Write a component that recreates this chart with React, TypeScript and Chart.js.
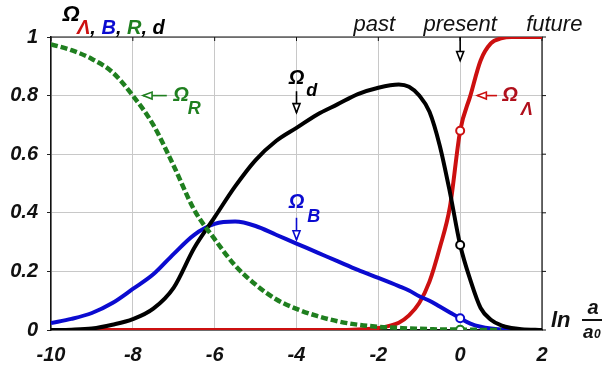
import React, { useEffect, useRef } from "react";
import { Chart, registerables } from "chart.js";

Chart.register(...registerables);

// ln(a/a0) sample positions
const xs = [-10, -9.5, -9, -8.5, -8, -7.5, -7, -6.5, -6, -5.5, -5, -4.5, -4, -3.5, -3, -2.5, -2, -1.5, -1.25, -1, -0.75, -0.5, -0.25, 0, 0.25, 0.5, 0.75, 1, 1.25, 1.5, 2];

// Ω_R (radiation)
const omegaR = [0.975, 0.955, 0.925, 0.88, 0.8, 0.7, 0.56, 0.41, 0.31, 0.22, 0.155, 0.105, 0.072, 0.048, 0.03, 0.018, 0.011, 0.007, 0.005, 0.004, 0.003, 0.002, 0.002, 0.001, 0.001, 0.0, 0.0, 0.0, null, null, null];
// Ω_B (baryons)
const omegaB = [0.024, 0.038, 0.058, 0.092, 0.14, 0.19, 0.26, 0.325, 0.362, 0.37, 0.355, 0.325, 0.295, 0.265, 0.235, 0.205, 0.178, 0.15, 0.135, 0.115, 0.1, 0.08, 0.06, 0.04, 0.022, 0.011, 0.005, 0.002, 0.001, 0.0, null];
// Ω_d (dark matter)
const omegaD = [0.0, 0.001, 0.005, 0.018, 0.037, 0.073, 0.145, 0.28, 0.385, 0.49, 0.58, 0.645, 0.69, 0.735, 0.77, 0.805, 0.827, 0.838, 0.83, 0.8, 0.745, 0.63, 0.47, 0.29, 0.17, 0.075, 0.035, 0.016, 0.007, 0.003, 0.0];
// Ω_Λ (dark energy)
const omegaL = [0, 0, 0, 0, 0, 0, 0, 0, 0, 0, 0, 0, 0, 0, 0, 0.002, 0.007, 0.025, 0.05, 0.092, 0.165, 0.28, 0.42, 0.68, 0.8, 0.92, 0.978, 0.995, 1, 1, 1];

const xTicks = [-10, -8, -6, -4, -2, 0, 2];
const yTicks = [0, 0.2, 0.4, 0.6, 0.8, 1];
const presentX = 0;

const FONT = '"Liberation Sans", Arial, sans-serif';
const GREEN = "#1f7f1f";
const BLUE = "#0b0bd0";
const RED = "#cc1010";
const BLACK = "#000000";

function pts(arr: (number | null)[]) {
  return xs.map((x, i) => ({ x, y: arr[i] }));
}

function drawArrow(ctx: CanvasRenderingContext2D, x1: number, y1: number, x2: number, y2: number, color: string) {
  const ang = Math.atan2(y2 - y1, x2 - x1);
  const len = 9;
  const hw = 3.5;
  ctx.save();
  ctx.strokeStyle = color;
  ctx.lineWidth = 1.6;
  ctx.beginPath();
  ctx.moveTo(x1, y1);
  ctx.lineTo(x2, y2);
  ctx.stroke();
  const bx = x2 - Math.cos(ang) * len;
  const by = y2 - Math.sin(ang) * len;
  const px = -Math.sin(ang) * hw;
  const py = Math.cos(ang) * hw;
  ctx.fillStyle = "#ffffff";
  ctx.beginPath();
  ctx.moveTo(x2, y2);
  ctx.lineTo(bx + px, by + py);
  ctx.lineTo(bx - px, by - py);
  ctx.closePath();
  ctx.fill();
  ctx.stroke();
  ctx.restore();
}

function drawText(ctx: CanvasRenderingContext2D, text: string, x: number, y: number, font: string, color: string, align: CanvasTextAlign = "center") {
  ctx.save();
  ctx.font = font;
  ctx.fillStyle = color;
  ctx.textAlign = align;
  ctx.textBaseline = "middle";
  ctx.fillText(text, x, y);
  ctx.restore();
}

const annotPlugin = {
  id: "annot",
  beforeDatasetsDraw(chart: any) {
    const { ctx, chartArea: a, scales } = chart;
    ctx.save();
    ctx.strokeStyle = "#111";
    ctx.lineWidth = 1.2;
    ctx.beginPath();
    ctx.moveTo(a.left, a.top);
    ctx.lineTo(a.right, a.top);
    ctx.lineTo(a.right, a.bottom);
    ctx.stroke();
    ctx.lineWidth = 1;
    yTicks.forEach((v) => {
      const y = scales.y.getPixelForValue(v);
      ctx.beginPath();
      ctx.moveTo(a.right, y);
      ctx.lineTo(a.right + 4, y);
      ctx.stroke();
    });
    xTicks.forEach((v) => {
      const x = scales.x.getPixelForValue(v);
      ctx.beginPath();
      ctx.moveTo(x, a.top);
      ctx.lineTo(x, a.top + 4);
      ctx.stroke();
    });
    ctx.restore();
  },
  afterDatasetsDraw(chart: any) {
    const { ctx, scales } = chart;
    const X = (v: number) => scales.x.getPixelForValue(v);
    const Y = (v: number) => scales.y.getPixelForValue(v);
    const big = `italic bold 20px ${FONT}`;
    const sub = `italic bold 18px ${FONT}`;

    // Ω_R
    drawArrow(ctx, X(-7.17), Y(0.8), X(-7.75), Y(0.8), GREEN);
    drawText(ctx, "Ω", X(-6.82), Y(0.8), big, GREEN);
    drawText(ctx, "R", X(-6.5), Y(0.755), sub, GREEN);

    // Ω_d
    drawText(ctx, "Ω", X(-4), Y(0.86), big, BLACK);
    drawText(ctx, "d", X(-3.63), Y(0.817), sub, BLACK);
    drawArrow(ctx, X(-4), Y(0.815), X(-4), Y(0.742), BLACK);

    // Ω_B
    drawText(ctx, "Ω", X(-4), Y(0.435), big, BLUE);
    drawText(ctx, "B", X(-3.58), Y(0.385), sub, BLUE);
    drawArrow(ctx, X(-4), Y(0.383), X(-4), Y(0.308), BLUE);

    // Ω_Λ
    drawArrow(ctx, X(0.9), Y(0.8), X(0.42), Y(0.8), RED);
    drawText(ctx, "Ω", X(1.22), Y(0.8), big, "#b0101c");
    drawText(ctx, "Λ", X(1.63), Y(0.752), sub, "#b0101c");

    // present arrow
    drawArrow(ctx, X(presentX), Y(1.0), X(presentX), Y(0.92), BLACK);
  },
  afterDraw(chart: any) {
    const { ctx, scales } = chart;
    const X = (v: number) => scales.x.getPixelForValue(v);
    // Axis title (top-left)
    drawText(ctx, "Ω", 71, 15, `italic bold 22px ${FONT}`, BLACK);
    ctx.save();
    ctx.font = `italic bold 20px ${FONT}`;
    ctx.textBaseline = "middle";
    ctx.textAlign = "left";
    let x = 77;
    const parts: [string, string][] = [["Λ", RED], [", ", BLACK], ["B", BLUE], [", ", BLACK], ["R", GREEN], [", ", BLACK], ["d", BLACK]];
    parts.forEach(([t, c]) => {
      ctx.fillStyle = c;
      ctx.fillText(t, x, 28);
      x += ctx.measureText(t).width;
    });
    ctx.restore();

    // past / present / future
    ctx.save();
    ctx.font = `italic 22px ${FONT}`;
    ctx.fillStyle = "#111";
    ctx.textAlign = "center";
    ctx.textBaseline = "alphabetic";
    ctx.fillText("past", X(-2.1), 31);
    ctx.fillText("present", X(0), 31);
    ctx.fillText("future", X(2.3), 31);
    ctx.restore();

    // x-axis title: ln a/a0
    ctx.save();
    ctx.fillStyle = "#111";
    ctx.font = `italic bold 22px ${FONT}`;
    ctx.textBaseline = "alphabetic";
    ctx.textAlign = "left";
    ctx.fillText("ln", 551, 327);
    ctx.font = `italic bold 20px ${FONT}`;
    ctx.textAlign = "center";
    ctx.fillText("a", 593, 314);
    ctx.lineWidth = 2;
    ctx.strokeStyle = "#111";
    ctx.beginPath();
    ctx.moveTo(582, 320);
    ctx.lineTo(602, 320);
    ctx.stroke();
    ctx.font = `italic bold 19px ${FONT}`;
    ctx.textAlign = "left";
    ctx.fillText("a", 583, 338);
    ctx.font = `italic bold 12px ${FONT}`;
    ctx.fillText("0", 594, 338);
    ctx.restore();
  },
};

export default function App() {
  const ref = useRef<HTMLCanvasElement>(null);
  useEffect(() => {
    if (!ref.current) return;
    const pointR = (c: any) => (xs[c.dataIndex] === presentX ? 4 : 0);
    const mk = (label: string, arr: (number | null)[], color: string, extra: any = {}) => ({
      label,
      data: pts(arr),
      borderColor: color,
      backgroundColor: color,
      borderWidth: 4,
      pointRadius: pointR,
      pointBackgroundColor: "#ffffff",
      pointBorderColor: color,
      pointBorderWidth: 2,
      cubicInterpolationMode: "monotone",
      fill: false,
      spanGaps: false,
      ...extra,
    });
    const chart = new Chart(ref.current, {
      type: "line",
      data: {
        datasets: [
          mk("ΩR", omegaR, GREEN, { borderDash: [7, 3], borderWidth: 4.5, borderCapStyle: "butt" }),
          mk("Ωd", omegaD, BLACK),
          mk("ΩB", omegaB, BLUE),
          mk("ΩΛ", omegaL, RED),
        ],
      },
      options: {
        animation: false,
        responsive: false,
        maintainAspectRatio: false,
        layout: { padding: { top: 37, right: 60, left: 0, bottom: 0 } },
        plugins: { legend: { display: false }, tooltip: { enabled: false }, title: { display: false } },
        scales: {
          x: {
            type: "linear",
            min: -10,
            max: 2,
            afterBuildTicks: (s: any) => {
              s.ticks = xTicks.map((v) => ({ value: v }));
            },
            afterFit: (s: any) => {
              s.height = 43;
            },
            ticks: {
              font: { family: FONT, size: 20, style: "italic", weight: "bold" },
              color: "#111",
              padding: 13,
              maxRotation: 0,
              callback: (v: any) => String(v),
            },
            grid: { color: "#c8c8c8", lineWidth: 1, drawTicks: false },
            border: { display: true, color: "#111", width: 1.5 },
          },
          y: {
            min: 0,
            max: 1,
            afterBuildTicks: (s: any) => {
              s.ticks = yTicks.map((v) => ({ value: v }));
            },
            afterFit: (s: any) => {
              s.width = 51;
            },
            ticks: {
              font: { family: FONT, size: 20, style: "italic", weight: "bold" },
              color: "#111",
              padding: 9,
              callback: (v: any) => String(+Number(v).toFixed(1)),
            },
            grid: { color: "#c8c8c8", lineWidth: 1, drawTicks: true, tickLength: 4, tickColor: "#222" },
            border: { display: true, color: "#111", width: 1.5 },
          },
        },
      } as any,
      plugins: [annotPlugin],
    });
    return () => chart.destroy();
  }, []);
  return (
    <div style={{ position: "absolute", left: 0, top: 0, width: 602, height: 373, background: "#fff" }}>
      <canvas ref={ref} width={602} height={373} style={{ display: "block" }} />
    </div>
  );
}
